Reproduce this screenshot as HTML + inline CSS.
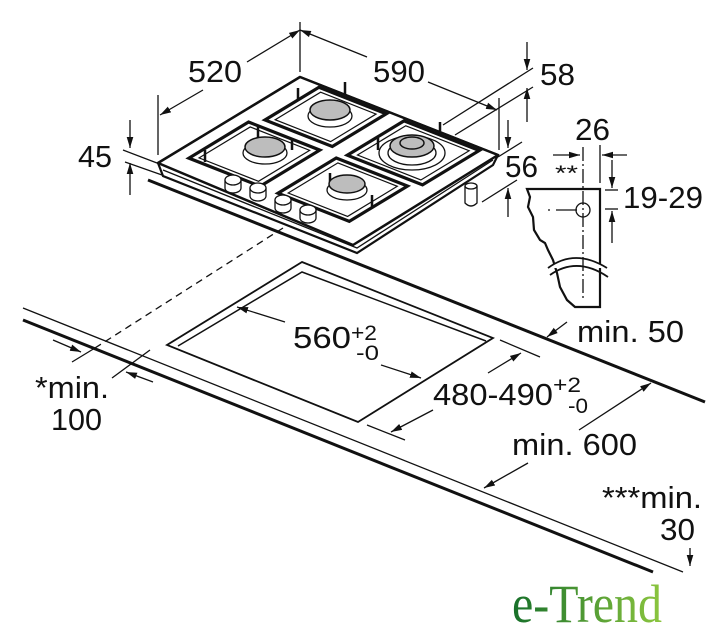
<!DOCTYPE html>
<html><head><meta charset="utf-8"><style>
html,body{margin:0;padding:0;background:#fff;}
svg{display:block;}
text{font-family:"Liberation Sans Narrow","Liberation Sans",sans-serif;fill:#111;}
</style></head><body>
<svg width="727" height="640" viewBox="0 0 727 640" xmlns="http://www.w3.org/2000/svg">
<defs>
<marker id="a" viewBox="0 0 10 6" refX="10" refY="3" markerWidth="11" markerHeight="7" markerUnits="userSpaceOnUse" orient="auto"><path d="M0,0L10,3L0,6z" fill="#111"/></marker>
<linearGradient id="g" x1="0" x2="1" y1="0" y2="0"><stop offset="0" stop-color="#17702a"/><stop offset="1" stop-color="#8cc63f"/></linearGradient>
</defs>
<g stroke="#111" fill="none" stroke-width="1.3">
<!-- worktop -->
<line x1="148" y1="180" x2="705" y2="402" stroke-width="3"/>
<line x1="23" y1="308" x2="683" y2="572" stroke-width="1.3"/>
<line x1="23" y1="320" x2="653" y2="572" stroke-width="3"/>
<!-- cutout -->
<polygon points="302,262 493,338 358,422 167,345" stroke-width="1.8"/>
<polyline points="178,346 302,272 486,341" stroke-width="1.5"/>
<!-- dashed -->
<line x1="283" y1="228" x2="95" y2="348" stroke-dasharray="7,5"/>
<line x1="95" y1="348" x2="72" y2="362"/>
<line x1="150" y1="350" x2="112" y2="378"/>
<line x1="53" y1="340" x2="81" y2="352" marker-end="url(#a)"/>
<line x1="153" y1="382" x2="126" y2="372" marker-end="url(#a)"/>
<!-- 560 -->
<line x1="285" y1="322" x2="237" y2="307" marker-end="url(#a)"/>
<line x1="381" y1="365" x2="421" y2="378" marker-end="url(#a)"/>
<!-- 480 -->
<line x1="500" y1="340" x2="540" y2="357"/>
<line x1="367" y1="425" x2="405" y2="440"/>
<line x1="488" y1="373" x2="521" y2="353" marker-end="url(#a)"/>
<line x1="433" y1="410" x2="391" y2="432" marker-end="url(#a)"/>
<!-- min 50 -->
<line x1="567" y1="322" x2="547" y2="337" marker-end="url(#a)"/>
<!-- min 600 -->
<line x1="579" y1="430" x2="651" y2="383" marker-end="url(#a)"/>
<line x1="528" y1="463" x2="484" y2="488" marker-end="url(#a)"/>
<!-- min 30 -->
<line x1="690" y1="548" x2="690" y2="566" marker-end="url(#a)"/>

<!-- top dims -->
<line x1="300" y1="22" x2="300" y2="72"/>
<line x1="247" y1="62" x2="300" y2="30" marker-end="url(#a)"/>
<line x1="203" y1="90" x2="160" y2="115" marker-end="url(#a)"/>
<line x1="158" y1="95" x2="158" y2="155"/>
<line x1="367" y1="57" x2="300" y2="30" marker-end="url(#a)"/>
<line x1="428" y1="82" x2="497" y2="110" marker-end="url(#a)"/>
<line x1="499" y1="98" x2="499" y2="150"/>
<!-- 45 -->
<line x1="130" y1="120" x2="130" y2="148" marker-end="url(#a)"/>
<line x1="130" y1="195" x2="130" y2="163" marker-end="url(#a)"/>
<line x1="123" y1="150" x2="157" y2="163"/>
<line x1="125" y1="162" x2="162" y2="175"/>
<!-- 58 -->
<line x1="527" y1="42" x2="527" y2="70" marker-end="url(#a)"/>
<line x1="527" y1="122" x2="527" y2="88" marker-end="url(#a)"/>
<line x1="443" y1="125" x2="533" y2="68"/>
<line x1="455" y1="135" x2="533" y2="87"/>
<!-- 56 -->
<line x1="508" y1="120" x2="508" y2="148" marker-end="url(#a)"/>
<line x1="508" y1="217" x2="508" y2="188" marker-end="url(#a)"/>
<line x1="498" y1="157" x2="522" y2="142"/>
<line x1="482" y1="202" x2="517" y2="180"/>

<!-- hob -->
<polygon points="158,163 300,77 498,155 493,165 357,253 163,176" fill="#fff" stroke-width="2.2"/>
<polyline points="163,170 357,248 493,160" stroke-width="1.3"/>
<polygon points="158,163 300,77 498,155 353,245" fill="#fff" stroke-width="2.5" stroke-linejoin="round"/>
<!-- foot -->
<path d="M465,186 L465,203 Q471,209 477,203 L477,186" fill="#fff"/>
<ellipse cx="471" cy="186" rx="6" ry="3" fill="#fff"/>
<!-- grates -->
<g transform="matrix(198,78,-142,86,300,77)">
<polygon points="0.11,0.02 0.45,0.02 0.45,0.4 0.11,0.4" vector-effect="non-scaling-stroke" stroke-width="3.2"/>
<polygon points="0.14,0.05 0.42,0.05 0.42,0.37 0.14,0.37" vector-effect="non-scaling-stroke" stroke-width="1.2"/>
<polygon points="0.07,0.46 0.43,0.46 0.43,0.88 0.07,0.88" vector-effect="non-scaling-stroke" stroke-width="3.2"/>
<polygon points="0.1,0.49 0.4,0.49 0.4,0.85 0.1,0.85" vector-effect="non-scaling-stroke" stroke-width="1.2"/>
<polygon points="0.54,0.02 0.92,0.02 0.92,0.42 0.54,0.42" vector-effect="non-scaling-stroke" stroke-width="3.2"/>
<polygon points="0.57,0.05 0.89,0.05 0.89,0.39 0.57,0.39" vector-effect="non-scaling-stroke" stroke-width="1.2"/>
<polygon points="0.52,0.47 0.88,0.47 0.88,0.88 0.52,0.88" vector-effect="non-scaling-stroke" stroke-width="3.2"/>
<polygon points="0.55,0.5 0.85,0.5 0.85,0.85 0.55,0.85" vector-effect="non-scaling-stroke" stroke-width="1.2"/>
</g>
<!-- grate prongs -->
<g stroke-width="2.5">
<path d="M298,88v12M345,82v12M258,127v12M292,138v12M205,150v12M440,122v12M378,138v12M330,173v12M372,195v12"/>
</g>
<!-- burners -->
<g fill="#fff">
<ellipse cx="330" cy="116" rx="22" ry="11"/>
<ellipse cx="265" cy="153" rx="22" ry="11"/>
<ellipse cx="412" cy="153" rx="33" ry="17"/>
<ellipse cx="412" cy="153" rx="24" ry="12"/>
<ellipse cx="347" cy="190" rx="20" ry="10"/>
</g>
<g fill="#bdbdbd" stroke-width="1.5">
<ellipse cx="330" cy="110" rx="20" ry="10"/>
<ellipse cx="265" cy="147" rx="20" ry="10"/>
<ellipse cx="412" cy="146" rx="22" ry="11"/>
<ellipse cx="412" cy="143" rx="12" ry="6"/>
<ellipse cx="347" cy="184" rx="18" ry="9"/>
</g>
<!-- knobs -->
<g fill="#fff">
<path d="M225,180v8a8,5 0 0 0 16,0v-8"/><ellipse cx="233" cy="180" rx="8" ry="5"/>
<path d="M250,188v8a8,5 0 0 0 16,0v-8"/><ellipse cx="258" cy="188" rx="8" ry="5"/>
<path d="M275,200v8a8,5 0 0 0 16,0v-8"/><ellipse cx="283" cy="200" rx="8" ry="5"/>
<path d="M300,210v8a8,5 0 0 0 16,0v-8"/><ellipse cx="308" cy="210" rx="8" ry="5"/>
</g>

<!-- clip profile -->
<path d="M527,189 L600,189 L600,307 L575,307 L567,300 L560,287 L557,273 L553,260 L548,250 L545,243 L540,240 L534,230 L533,217 L528,207 L530,197 Z" stroke-width="2.2" fill="#fff"/>
<path d="M548,268 Q575,248 607,268" stroke-width="1.8" fill="#fff"/>
<path d="M550,275 Q577,256 608,277" stroke-width="1.8"/>
<line x1="583" y1="147" x2="583" y2="300" stroke-dasharray="14,3,2,3"/>
<line x1="548" y1="210" x2="577" y2="210" stroke-dasharray="2,6,20,0"/>
<circle cx="583" cy="210" r="7"/>
<line x1="600" y1="145" x2="600" y2="183"/>
<line x1="553" y1="155" x2="580" y2="155" marker-end="url(#a)"/>
<line x1="627" y1="155" x2="602" y2="155" marker-end="url(#a)"/>
<line x1="605" y1="190" x2="618" y2="190"/>
<line x1="605" y1="209" x2="618" y2="209"/>
<line x1="612" y1="160" x2="612" y2="188" marker-end="url(#a)"/>
<line x1="612" y1="243" x2="612" y2="211" marker-end="url(#a)"/>
</g>

<g font-size="31">
<text x="188" y="82" textLength="54" lengthAdjust="spacingAndGlyphs">520</text>
<text x="373" y="82" textLength="52" lengthAdjust="spacingAndGlyphs">590</text>
<text x="78" y="167" textLength="34" lengthAdjust="spacingAndGlyphs">45</text>
<text x="540" y="85" textLength="35" lengthAdjust="spacingAndGlyphs">58</text>
<text x="505" y="177" textLength="33" lengthAdjust="spacingAndGlyphs">56</text>
<text x="575" y="140" textLength="35" lengthAdjust="spacingAndGlyphs">26</text>
<text x="623" y="208" textLength="80" lengthAdjust="spacingAndGlyphs">19-29</text>
<text x="293" y="348" textLength="58" lengthAdjust="spacingAndGlyphs">560</text>
<text x="433" y="405" textLength="120" lengthAdjust="spacingAndGlyphs">480-490</text>
<text x="577" y="342" textLength="107" lengthAdjust="spacingAndGlyphs">min. 50</text>
<text x="512" y="455" textLength="125" lengthAdjust="spacingAndGlyphs">min. 600</text>
<text x="602" y="508" textLength="100" lengthAdjust="spacingAndGlyphs">***min.</text>
<text x="660" y="540" textLength="35" lengthAdjust="spacingAndGlyphs">30</text>
<text x="35" y="398" textLength="74" lengthAdjust="spacingAndGlyphs">*min.</text>
<text x="51" y="430" textLength="51" lengthAdjust="spacingAndGlyphs">100</text>
</g>
<g font-size="21">
<text x="555" y="180" textLength="23" lengthAdjust="spacingAndGlyphs">**</text>
<text x="351" y="340" textLength="26" lengthAdjust="spacingAndGlyphs">+2</text>
<text x="356" y="360" textLength="23" lengthAdjust="spacingAndGlyphs">-0</text>
<text x="553" y="392" textLength="28" lengthAdjust="spacingAndGlyphs">+2</text>
<text x="568" y="413" textLength="20" lengthAdjust="spacingAndGlyphs">-0</text>
</g>
<text x="512" y="622" font-size="54" textLength="150" lengthAdjust="spacingAndGlyphs" style="font-family:'Liberation Serif',serif;fill:url(#g)">e-Trend</text>
</svg>
</body></html>
